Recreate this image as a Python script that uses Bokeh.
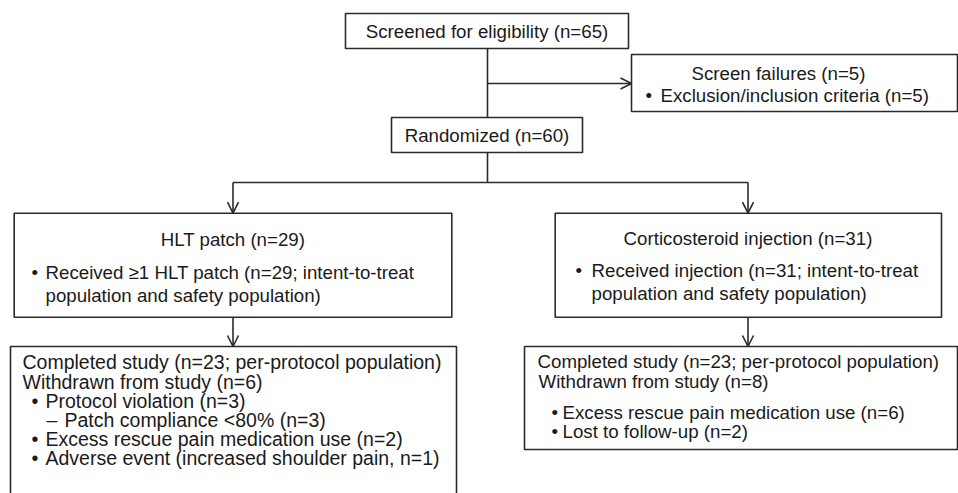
from bokeh.plotting import figure
from bokeh.models import Range1d, Arrow, OpenHead
from bokeh.core.properties import value
from bokeh.embed import file_html
from bokeh.resources import INLINE

# ---------------- data (texts of the flow chart) ----------------
screened_text = "Screened for eligibility (n=65)"
fail_title = "Screen failures (n=5)"
fail_items = ["Exclusion/inclusion criteria (n=5)"]
randomized_text = "Randomized (n=60)"
arm_titles = ["HLT patch (n=29)", "Corticosteroid injection (n=31)"]
arm_items = [
    ["Received \u22651 HLT patch (n=29; intent-to-treat", "population and safety population)"],
    ["Received injection (n=31; intent-to-treat", "population and safety population)"],
]
outcome_heads = [
    ["Completed study (n=23; per-protocol population)", "Withdrawn from study (n=6)"],
    ["Completed study (n=23; per-protocol population)", "Withdrawn from study (n=8)"],
]
hlt_reason_marks = ["\u2022", "\u2013", "\u2022", "\u2022"]
hlt_reasons = [
    "Protocol violation (n=3)",
    "Patch compliance <80% (n=3)",
    "Excess rescue pain medication use (n=2)",
    "Adverse event (increased shoulder pain, n=1)",
]
cs_reason_marks = ["\u2022", "\u2022"]
cs_reasons = [
    "Excess rescue pain medication use (n=6)",
    "Lost to follow-up (n=2)",
]

# ---------------- layout ----------------
W, H = 958, 493
p = figure(width=W, height=H, output_backend="svg", toolbar_location=None,
           x_range=Range1d(0, 958), y_range=Range1d(493, 0),
           min_border=0, outline_line_color=None)
p.axis.visible = False
p.grid.visible = False
p.background_fill_color = "white"
p.border_fill_color = "white"

LC = "#2b2b2b"
LW = 1.6
FONT = value("Liberation Sans")
FS = "18.7px"
FS_BIG = "19.5px"
TC = "#1a1a1a"

def box(l, r, t, b):
    p.quad(left=l, right=r, top=t, bottom=b, fill_color="white",
           line_color=LC, line_width=LW)

def line(x0, y0, x1, y1):
    p.segment(x0=[x0], y0=[y0], x1=[x1], y1=[y1], line_color=LC, line_width=LW)

def arrow(x0, y0, x1, y1):
    p.add_layout(Arrow(x_start=x0, y_start=y0, x_end=x1, y_end=y1,
                       line_color=LC, line_width=LW,
                       end=OpenHead(size=11, line_color=LC, line_width=LW)))

def txt(xs, ys, texts, align="left", size=FS):
    p.text(x=xs, y=ys, text=texts, text_align=align, text_baseline="middle",
           text_font=FONT, text_font_size=size, text_color=TC)

# boxes
box(345, 628, 13, 48)           # screened
box(631, 957, 54, 111)          # screen failures
box(391, 582, 117, 152)         # randomized
box(13.7, 451.3, 212.7, 316.7)  # HLT arm
box(554.7, 941, 212.7, 316.7)   # CS arm
box(10, 456, 346, 520)          # HLT outcome (runs off the page)
box(524, 957, 346, 449)         # CS outcome

# connectors
line(487, 48, 487, 117)
arrow(487, 83, 631, 83)
line(487, 152, 487, 182)
line(232.5, 182, 747.5, 182)
arrow(232.5, 182, 232.5, 212.7)
arrow(747.5, 182, 747.5, 212.7)
arrow(232.5, 316.7, 232.5, 346)
arrow(747.5, 316.7, 747.5, 346)

# texts
txt([486.5], [30.5], [screened_text], "center")
txt([778], [73], [fail_title], "center")
txt([645], [95], ["\u2022"], "left")
txt([660], [95], fail_items, "left")
txt([486.5], [135], [randomized_text], "center")

txt([232.5], [239], [arm_titles[0]], "center")
txt([31], [272], ["\u2022"], "left")
txt([45, 45], [272, 295], arm_items[0], "left")

txt([747.5], [238], [arm_titles[1]], "center")
txt([575], [270], ["\u2022"], "left")
txt([591, 591], [270, 293], arm_items[1], "left")

txt([22, 22], [361, 381], outcome_heads[0], "left", FS_BIG)
ys_h = [400, 419, 438, 457]
mark_x = [31, 46, 31, 31]
text_x = [45, 64, 45, 45]
txt(mark_x, ys_h, hlt_reason_marks, "left", FS_BIG)
txt(text_x, ys_h, hlt_reasons, "left", FS_BIG)

txt([537, 538], [361, 381], outcome_heads[1], "left")
txt([551, 551], [412, 431], cs_reason_marks, "left")
txt([562, 562], [412, 431], cs_reasons, "left")

open("out.html", "w").write(file_html(p, INLINE))
